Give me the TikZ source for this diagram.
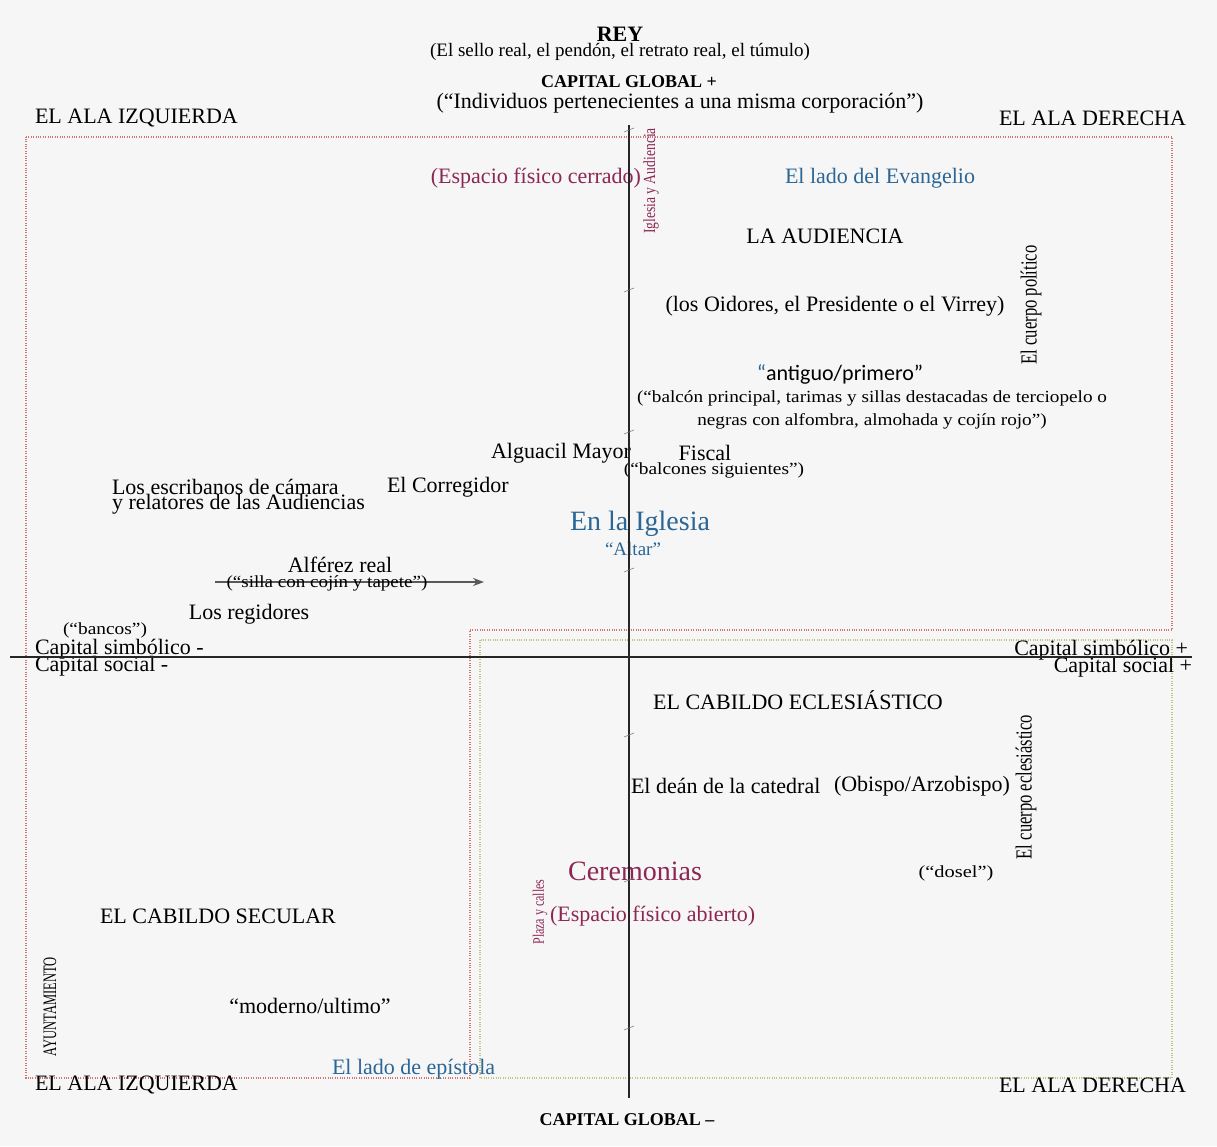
\documentclass[tikz,border=0pt]{standalone}
\usepackage{fontspec}
\setmainfont{Liberation Serif}
\newfontfamily\calib{Carlito}
\usepackage{graphicx}
\usetikzlibrary{arrows.meta}
\definecolor{mag}{RGB}{140,38,82}
\definecolor{blu}{RGB}{42,102,150}
\definecolor{redd}{RGB}{205,120,120}
\definecolor{yel}{RGB}{195,195,130}
\definecolor{bg}{RGB}{246,246,246}
\newcommand\fsz[1]{\fontsize{#1}{#1}\selectfont}
\newcommand\wide[1]{\scalebox{1.14}[1]{#1}}
\begin{document}
\begin{tikzpicture}[x=1pt,y=-1pt,
  every node/.style={inner sep=0pt, outer sep=0pt, font=\fsz{22}},
  small/.style={font=\fsz{17}},
  mid/.style={font=\fsz{19}},
  big/.style={font=\fsz{28}},
  rot/.style={rotate=90},
  dotline/.style={line width=1.1pt, dash pattern=on 1pt off 1.4pt},
  axis/.style={line width=2.6pt, black!85},
  haxis/.style={line width=1.3pt, black!85},
  tick/.style={line width=0.6pt, gray},
  arr/.style={line width=1.6pt, gray!70!black, -{Stealth[length=11pt,width=8pt]}}]
\fill[bg] (0,0) rectangle (1217,1146);
\useasboundingbox (0,0) rectangle (1217,1146);
% dotted frames
\draw[dotline, redd] (26,137) -- (1172,137) -- (1172,630) -- (470,630) -- (470,1078) -- (26,1078) -- cycle;
\draw[dotline, yel] (480,640) rectangle (1172,1078);
% texts
\node[font=\fsz{22}\bfseries] (rey) at (620,34) {REY};
\node[mid] (reyinfo) at (620,52) {(El sello real, el pendón, el retrato real, el túmulo)};
\node[font=\fsz{18}\bfseries] (cgp) at (629,82) {CAPITAL GLOBAL +};
\node (indiv) at (680,103) {(“Individuos pertenecientes a una misma corporación”)};
\node[anchor=west] (aliz) at (35,118) {EL ALA IZQUIERDA};
\node[anchor=east] (alde) at (1186,118) {EL ALA DERECHA};
\node[anchor=east, text=mag] (cerr) at (641,178) {(Espacio físico cerrado)};
\node[rot, text=mag, font=\fsz{17}] (igl) at (651,181) {\scalebox{0.8}[1]{Iglesia y Audiencia}};
\node[text=blu] (evang) at (880,178) {El lado del Evangelio};
\node (aud) at (825,236) {LA AUDIENCIA};
\node[rot, font=\fsz{23}] (cpol) at (1031,305) {\scalebox{0.72}[1]{El cuerpo político}};
\node (oid) at (835,306) {(los Oidores, el Presidente o el Virrey)};
\node[font=\calib\fsz{22}] (ant) at (840,374) {\textcolor{blu}{“}antiguo/primero”};
\node[small] (balc1) at (872,398) {\scalebox{1.13}[1]{(“balcón principal, tarimas y sillas destacadas de terciopelo o}};
\node[small] (balc2) at (872,421) {\scalebox{1.13}[1]{negras con alfombra, almohada y cojín rojo”)}};
\node[anchor=east] (algu) at (631,453) {Alguacil Mayor};
\node (fisc) at (705,453) {Fiscal};
\node[small] (bsig) at (714,470) {\wide{(“balcones siguientes”)}};
\node[anchor=west] (escr1) at (112,487) {Los escribanos de cámara};
\node[anchor=west] (escr2) at (112,504) {y relatores de las Audiencias};
\node[anchor=west] (corr) at (387,487) {El Corregidor};
\node[big, text=blu] (enig) at (640,524) {En la Iglesia};
\node[mid, text=blu] (altar) at (633,549) {“Altar”};
\node (alf) at (340,565) {Alférez real};
\coordinate (arrs) at (215,582);
\coordinate (arre) at (484,582);
\draw[arr] (arrs) -- (arre);
\node[small] (silla) at (327,583) {\scalebox{1.12}[1]{(“silla con cojín y tapete”)}};
\node (reg) at (249,614) {Los regidores};
\node[small] (banc) at (105,630) {\wide{(“bancos”)}};
\node[anchor=west] (csm) at (35,649) {Capital simbólico -};
\node[anchor=west] (csom) at (35,666) {Capital social -};
\node[anchor=east] (csp) at (1188,650) {Capital simbólico +};
\node[anchor=east] (csop) at (1192,667) {Capital social +};
\node (cabe) at (798,700) {EL CABILDO ECLESIÁSTICO};
\node[rot, font=\fsz{23}] (cecl) at (1026,787) {\scalebox{0.72}[1]{El cuerpo eclesiástico}};
\node[anchor=west] (dean) at (631,786) {El deán de la catedral};
\node[anchor=west] (obis) at (834,786) {(Obispo/Arzobispo)};
\node[big, text=mag] (cer) at (635,871) {Ceremonias};
\node[small] (dosel) at (956,873) {\scalebox{1.2}[1]{(“dosel”)}};
\node[rot, text=mag, font=\fsz{16}] (plaza) at (540,912) {\scalebox{0.75}[1]{Plaza y calles}};
\node[anchor=west, text=mag] (abie) at (550,916) {(Espacio físico abierto)};
\node[anchor=west] (cabs) at (100,916) {EL CABILDO SECULAR};
\node[rot, font=\fsz{19}] (ayun) at (50,1007) {\scalebox{0.66}[1]{AYUNTAMIENTO}};
\node (mod) at (310,1006) {“moderno/ultimo”};
\node[anchor=west, text=blu] (epis) at (332,1069) {El lado de epístola};
\node[anchor=west] (aliz2) at (35,1085) {EL ALA IZQUIERDA};
\node[anchor=east] (alde2) at (1186,1085) {EL ALA DERECHA};
\node[font=\fsz{18}\bfseries] (cgm) at (627,1120) {CAPITAL GLOBAL –};
% axes
\coordinate (vtop) at (629,125);
\coordinate (vbot) at (629,1098);
\coordinate (hl) at (10,657);
\coordinate (hr) at (1192,657);
\draw[haxis] (hl) -- (hr);
\draw[axis] (vtop) -- (vbot);
\foreach \t in {130,290,432,570,735,880,1028}
  \draw[tick] (624,\t+2) -- (634,\t-2);
\end{tikzpicture}
\end{document}
